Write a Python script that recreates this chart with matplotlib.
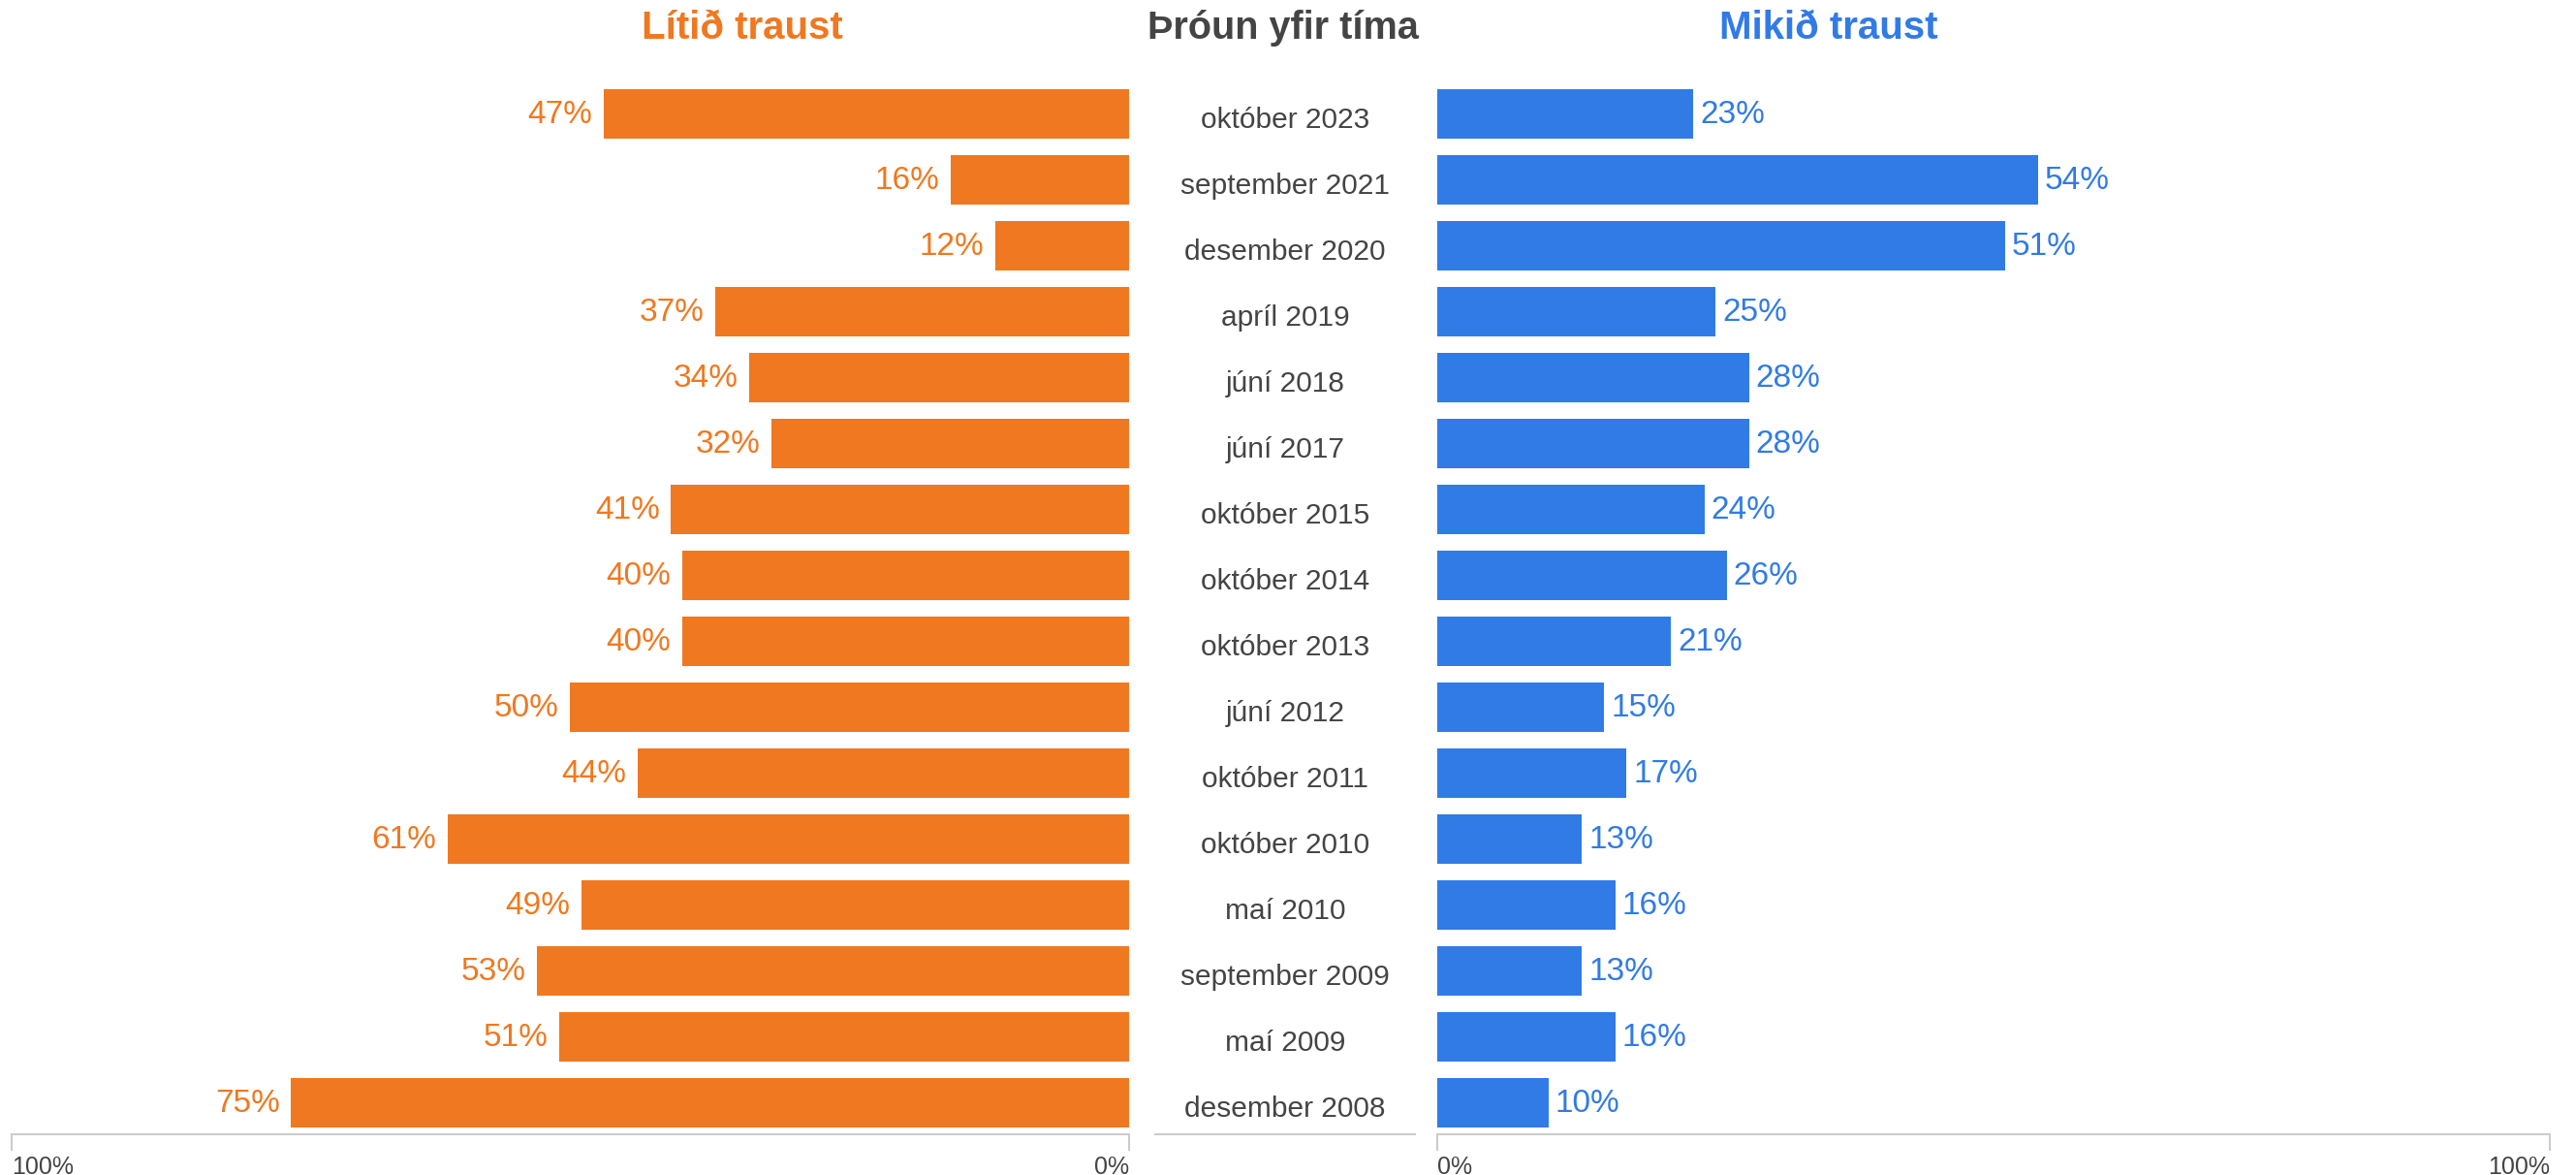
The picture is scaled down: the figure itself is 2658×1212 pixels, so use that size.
import matplotlib.pyplot as plt
import numpy as np

plt.rcParams['font.family'] = ['Liberation Sans', 'DejaVu Sans']

dates = ['október 2023', 'september 2021', 'desember 2020', 'apríl 2019',
         'júní 2018', 'júní 2017', 'október 2015', 'október 2014',
         'október 2013', 'júní 2012', 'október 2011', 'október 2010',
         'maí 2010', 'september 2009', 'maí 2009', 'desember 2008']
litid = [47, 16, 12, 37, 34, 32, 41, 40, 40, 50, 44, 61, 49, 53, 51, 75]
mikid = [23, 54, 51, 25, 28, 28, 24, 26, 21, 15, 17, 13, 16, 13, 16, 10]

orange = '#F07820'
blue = '#317BE6'
dark = '#444444'
grid = '#cccccc'

fig = plt.figure(figsize=(26.58, 12.12), dpi=100)
y = np.arange(len(dates))

bottom, height = 0.0347, 0.8968
ax_l = fig.add_axes([0.0045, bottom, 0.4338, height])
ax_c = fig.add_axes([0.4485, bottom, 0.1008, height])
ax_r = fig.add_axes([0.558, bottom, 0.4318, height])

for ax in (ax_l, ax_c, ax_r):
    ax.set_ylim(15.475, -0.5)
    for s in ('top', 'left', 'right'):
        ax.spines[s].set_visible(False)
    ax.spines['bottom'].set_color(grid)
    ax.spines['bottom'].set_linewidth(1.5)
    ax.set_yticks([])

# left: lítið traust
ax_l.barh(y, litid, height=0.75, color=orange)
ax_l.set_xlim(100, 0)
ax_l.set_xticks([100, 0])
ax_l.set_xticklabels(['100%', '0%'])
for lbl, ha in zip(ax_l.get_xticklabels(), ['left', 'right']):
    lbl.set_ha(ha)
for yi, v in zip(y, litid):
    ax_l.text(v + 1.0, yi + 0.02, f'{v}%', ha='right', va='center',
              color=orange, fontsize=24)

# right: mikið traust
ax_r.barh(y, mikid, height=0.75, color=blue)
ax_r.set_xlim(0, 100)
ax_r.set_xticks([0, 100])
ax_r.set_xticklabels(['0%', '100%'])
for lbl, ha in zip(ax_r.get_xticklabels(), ['left', 'right']):
    lbl.set_ha(ha)
for yi, v in zip(y, mikid):
    ax_r.text(v + 0.6, yi + 0.02, f'{v}%', ha='left', va='center',
              color=blue, fontsize=24)

for ax in (ax_l, ax_r):
    ax.tick_params(axis='x', colors=grid, length=12, width=1.5,
                   labelcolor=dark, labelsize=18, pad=4)

# center: dates
ax_c.set_xlim(0, 1)
ax_c.set_xticks([])
for yi, d in zip(y, dates):
    ax_c.text(0.5, yi + 0.1, d, ha='center', va='center',
              color=dark, fontsize=21.5)

fig.text(0.288, 0.976, 'Lítið traust', ha='center', va='center',
         color=orange, fontsize=29, fontweight='bold')
fig.text(0.498, 0.976, 'Þróun yfir tíma', ha='center', va='center',
         color=dark, fontsize=28.5, fontweight='bold')
fig.text(0.710, 0.976, 'Mikið traust', ha='center', va='center',
         color=blue, fontsize=29, fontweight='bold')

plt.savefig('out.png')
